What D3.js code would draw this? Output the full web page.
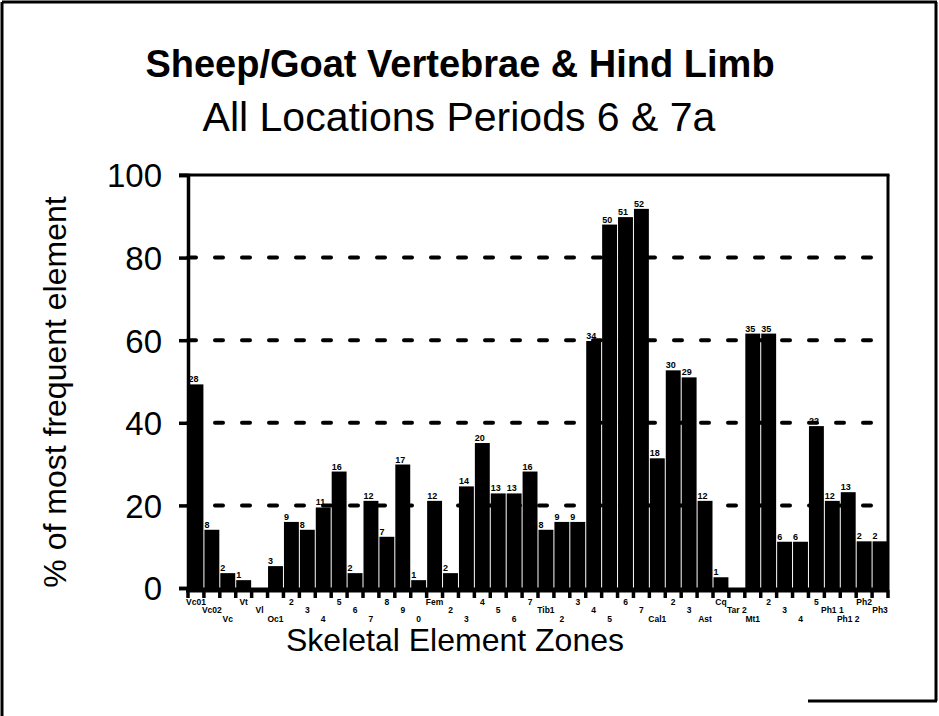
<!DOCTYPE html>
<html>
<head>
<meta charset="utf-8">
<script src="https://cdn.jsdelivr.net/npm/d3@7"></script>
<style>
  body { margin: 0; background: #fff; }
  svg { display: block; }
  text { font-family: "Liberation Sans", Arial, Helvetica, sans-serif; fill: #000; }
</style>
</head>
<body>
<div id="chart"></div>
<script>
// skeletal element zones, left to right
var zoneLabels = ['Vc01', 'Vc02', 'Vc', 'Vt', 'Vl', 'Oc1', '2', '3', '4', '5', '6', '7', '8', '9', '0',
    'Fem', '2', '3', '4', '5', '6', '7', 'Tib1', '2', '3', '4', '5', '6', '7',
    'Cal1', '2', '3', 'Ast', 'Cq', 'Tar 2', 'Mt1', '2', '3', '4', '5', 'Ph1 1', 'Ph1 2', 'Ph2', 'Ph3'];
// counts printed on top of each bar (null = nothing printed)
var zoneCounts = [28, 8, 2, 1, null, 3, 9, 8, 11, 16, 2, 12, 7, 17, 1,
    12, 2, 14, 20, 13, 13, 16, 8, 9, 9, 34, 50, 51, 52,
    18, 30, 29, 12, 1, null, 35, 35, 6, 6, 22, 12, 13, 2, 2];
// % of most frequent element
var zonePercents = [49.3, 14.1, 3.6, 1.9, 0, 5.3, 16, 14.1, 19.5, 28.2, 3.6, 21.1, 12.4, 29.9, 1.9,
    21.1, 3.6, 24.6, 35.1, 22.9, 22.9, 28.2, 14.1, 16, 16, 59.8, 88, 89.8, 91.8,
    31.4, 52.7, 51, 21.1, 2.6, 0, 61.6, 61.6, 11.2, 11.2, 39.2, 21.1, 23.2, 11.3, 11.3];
var yTicks = [0, 20, 40, 60, 80, 100];
var gridValues = [20, 40, 60, 80];

var width = 939, height = 716;
var plotLeft = 188, plotRight = 888, plotTop = 175, plotBottom = 588;

var svg = d3.select('#chart').append('svg')
    .attr('width', width)
    .attr('height', height);

// outer frame of the scanned page
var frame = svg.append('g').attr('stroke', '#000').attr('stroke-width', 3);
frame.append('line').attr('x1', 2).attr('y1', 2).attr('x2', 937).attr('y2', 2);
frame.append('line').attr('x1', 2).attr('y1', 2).attr('x2', 2).attr('y2', 716);
frame.append('line').attr('x1', 936).attr('y1', 2).attr('x2', 936).attr('y2', 701);
frame.append('line').attr('x1', 808).attr('y1', 701).attr('x2', 937).attr('y2', 701);

var x = d3.scaleBand()
    .domain(d3.range(zoneLabels.length))
    .range([plotLeft, plotRight])
    .paddingInner(0)
    .paddingOuter(0);
var y = d3.scaleLinear().domain([0, 100]).range([plotBottom, plotTop]);

// dashed grid lines (behind bars)
svg.append('g').selectAll('line').data(gridValues).enter().append('line')
    .attr('x1', plotLeft).attr('x2', plotRight)
    .attr('y1', function(d) { return y(d); })
    .attr('y2', function(d) { return y(d); })
    .attr('stroke', '#000')
    .attr('stroke-width', 4)
    .attr('stroke-linecap', 'round')
    .attr('stroke-dasharray', '8,19');

// bars
svg.append('g').selectAll('rect').data(zonePercents).enter().append('rect')
    .attr('x', function(d, i) { return x(i) + 0.5; })
    .attr('width', x.bandwidth() - 1)
    .attr('y', function(d) { return y(d); })
    .attr('height', function(d) { return plotBottom - y(d); })
    .attr('fill', '#000');

// count labels on bars
var cnt = svg.append('g')
    .style('font-size', '9px')
    .style('font-weight', 'bold');
zoneCounts.forEach(function(c, i) {
    if (c == null) return;
    cnt.append('text')
        .attr('x', x(i) + 0.5)
        .attr('y', y(zonePercents[i]) - 2)
        .text(c);
});

// plot frame (top and right)
svg.append('line').attr('x1', plotLeft - 9).attr('x2', plotRight + 1.5).attr('y1', plotTop).attr('y2', plotTop)
    .attr('stroke', '#000').attr('stroke-width', 3);
svg.append('line').attr('x1', plotRight).attr('x2', plotRight).attr('y1', plotTop).attr('y2', plotBottom + 2)
    .attr('stroke', '#000').attr('stroke-width', 3);

// y axis
var yAxis = svg.append('g')
    .attr('transform', 'translate(' + plotLeft + ',0)')
    .call(d3.axisLeft(y).tickValues(yTicks).tickSize(9).tickPadding(17));
yAxis.select('.domain').attr('stroke-width', 3.5);
yAxis.selectAll('.tick line').attr('stroke-width', 3.5);
yAxis.selectAll('.tick text')
    .style('font-family', '"Liberation Sans", Arial, sans-serif')
    .style('font-size', '33px')
    .attr('dy', '0.36em');

// x axis: thick base line with teeth at zone boundaries
svg.append('line').attr('x1', plotLeft - 2).attr('x2', plotRight + 1)
    .attr('y1', plotBottom + 2).attr('y2', plotBottom + 2)
    .attr('stroke', '#000').attr('stroke-width', 5);
var bounds = d3.range(zoneLabels.length).map(function(i) { return x(i); }).concat([plotRight]);
svg.append('g').selectAll('line').data(bounds).enter().append('line')
    .attr('x1', function(d) { return d; }).attr('x2', function(d) { return d; })
    .attr('y1', plotBottom + 2).attr('y2', plotBottom + 10)
    .attr('stroke', '#000').attr('stroke-width', 3.5);

// zone labels, staggered on three rows
svg.append('g').selectAll('text').data(zoneLabels).enter().append('text')
    .attr('x', function(d, i) { return x(i) + x.bandwidth() / 2; })
    .attr('y', function(d, i) { return 605 + (i % 3) * 8.3; })
    .attr('text-anchor', 'middle')
    .style('font-size', '8.5px')
    .style('font-weight', 'bold')
    .text(function(d) { return d; });

// titles
svg.append('text').attr('x', 460).attr('y', 77).attr('text-anchor', 'middle')
    .style('font-size', '38px').style('font-weight', 'bold')
    .text('Sheep/Goat Vertebrae & Hind Limb');
svg.append('text').attr('x', 459).attr('y', 131).attr('text-anchor', 'middle')
    .style('font-size', '41px')
    .text('All Locations Periods 6 & 7a');
svg.append('text').attr('x', 455).attr('y', 651).attr('text-anchor', 'middle')
    .style('font-size', '32px')
    .text('Skeletal Element Zones');
svg.append('text')
    .attr('transform', 'translate(66,' + 392 + ') rotate(-90)')
    .attr('text-anchor', 'middle')
    .style('font-size', '32px')
    .text('% of most frequent element');
</script>
</body>
</html>
